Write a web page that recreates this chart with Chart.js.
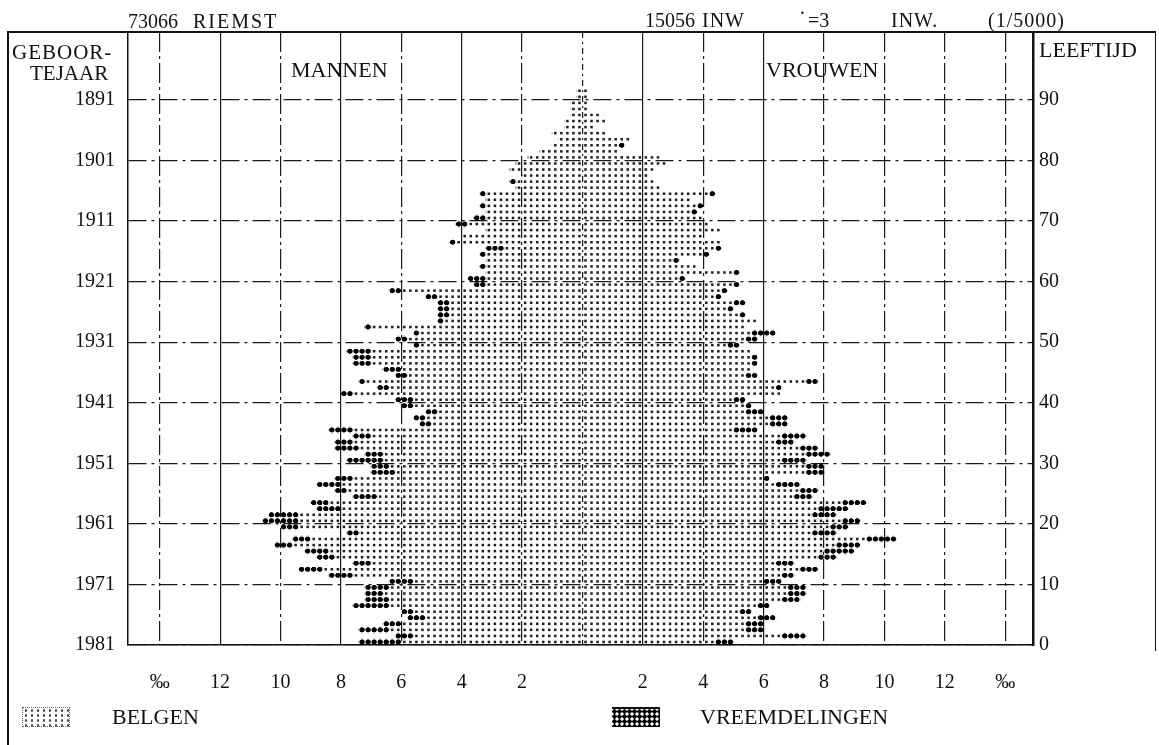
<!DOCTYPE html>
<html><head><meta charset="utf-8">
<script src="https://cdn.jsdelivr.net/npm/chart.js@4.4.1/dist/chart.umd.min.js"></script>
<style>
html,body{margin:0;padding:0;background:#fff;}
#wrap{position:relative;width:1159px;height:745px;overflow:hidden;font-family:'Liberation Serif','Times New Roman',serif;color:#111;}
#c{position:absolute;left:0;top:0;}
.t{position:absolute;white-space:nowrap;line-height:1;transform:translateY(-50%);}
.ln{position:absolute;background:#111;}
.sw{position:absolute;box-sizing:border-box;}
</style></head><body>
<div id="wrap">
<canvas id="c" width="1159" height="745"></canvas>
<div class="ln" style="left:8px;top:31px;width:1148px;height:2px;"></div>
<div class="ln" style="left:7px;top:31px;width:2px;height:714px;"></div>
<div class="ln" style="left:1155px;top:31px;width:1px;height:620px;"></div>

<span class="t" style="left:128px;top:21px;font-size:20px;">73066</span>
<span class="t" style="left:193px;top:21px;font-size:20px;letter-spacing:2px;">RIEMST</span>
<span class="t" style="left:645px;top:20px;font-size:20px;">15056</span>
<span class="t" style="left:702px;top:20px;font-size:20px;letter-spacing:1px;">INW</span>
<span class="t" style="left:799px;top:13px;font-size:20px;">·</span>
<span class="t" style="left:808px;top:20px;font-size:20px;">=3</span>
<span class="t" style="left:891px;top:20px;font-size:20px;letter-spacing:1px;">INW.</span>
<span class="t" style="left:988px;top:20px;font-size:20px;letter-spacing:1px;">(1/5000)</span>

<span class="t" style="left:12px;top:52px;font-size:21px;letter-spacing:1px;">GEBOOR-</span>
<span class="t" style="left:30px;top:73px;font-size:21px;">TEJAAR</span>
<span class="t" style="left:291px;top:70px;font-size:22px;">MANNEN</span>
<span class="t" style="left:766px;top:70px;font-size:22px;">VROUWEN</span>
<span class="t" style="left:1039px;top:50px;font-size:22px;">LEEFTIJD</span>

<div class="sw" style="left:22px;top:707px;width:48px;height:20px;border:1px dotted #666;background-image:radial-gradient(circle,#444 1px,transparent 1.4px);background-size:6px 5px;"></div>
<span class="t" style="left:112px;top:717px;font-size:22px;">BELGEN</span>
<div class="sw" style="left:612px;top:707px;width:48px;height:20px;border-top:2px solid #111;background-image:radial-gradient(circle,#000 2px,transparent 2.4px);background-size:5px 5px;"></div>
<span class="t" style="left:700px;top:717px;font-size:22px;">VREEMDELINGEN</span>
</div>
<script>
// ---- categories (age in years, 0 = born 1981) ----
const ages = [0,1,2,3,4,5,6,7,8,9,10,11,12,13,14,15,16,17,18,19,20,21,22,23,24,25,26,27,28,29,30,31,32,33,34,35,36,37,38,39,40,41,42,43,44,45,46,47,48,49,50,51,52,53,54,55,56,57,58,59,60,61,62,63,64,65,66,67,68,69,70,71,72,73,74,75,76,77,78,79,80,81,82,83,84,85,86,87,88,89,90,91];

// ---- series values, per mille of the population, by age ----
const menBelgen = [6.0,5.6,6.4,6.0,5.2,5.6,6.4,6.4,6.6,6.4,5.6,7.6,8.6,7.0,8.2,8.4,9.6,9.0,7.4,9.4,9.4,9.4,8.0,8.4,6.8,7.8,8.0,7.6,6.2,6.4,6.6,6.6,7.4,7.6,7.0,7.6,5.0,5.2,4.8,5.6,5.6,7.6,6.4,7.2,5.8,6.0,7.0,7.0,7.0,5.4,5.8,5.4,7.0,4.6,4.4,4.4,4.4,4.8,6.0,3.2,3.2,3.2,3.2,3.2,3.2,2.6,4.2,4.0,3.2,3.8,3.2,3.2,3.2,3.2,3.2,2.2,2.2,2.0,2.4,2.2,1.8,1.4,1.0,0.8,1.0,0.6,0.6,0.4,0.4,0.4,0.2,0.2];
const menVreemd = [1.4,0.6,1.0,0.6,0.6,0.4,1.2,0.8,0.6,0.8,0.8,0.8,0.8,0.6,0.6,0.8,0.6,0.6,0.4,0.6,1.2,1.0,0.8,0.6,0.8,0.4,0.8,0.6,0.8,0.6,1.2,0.6,0.8,0.6,0.6,0.8,0.4,0.4,0.4,0.4,0.6,0.4,0.4,0.2,0.4,0.6,0.6,0.6,0.8,0.2,0.4,0.2,0.2,0.2,0.4,0.4,0.4,0.4,0.4,0.4,0.6,0.0,0.2,0.0,0.2,0.6,0.2,0.0,0.0,0.4,0.4,0.0,0.2,0.0,0.2,0.0,0.2,0.0,0.0,0.0,0.0,0.0,0.0,0.0,0.0,0.0,0.0,0.0,0.0,0.0,0.0,0.0];
const womenBelgen = [4.4,6.6,5.4,5.4,5.8,5.2,5.8,6.6,6.8,6.8,6.0,6.6,7.2,6.4,7.8,8.0,8.4,9.4,7.6,8.2,8.6,7.6,7.8,8.6,7.0,7.2,6.4,6.0,7.4,7.4,6.6,7.4,7.2,6.4,6.6,5.0,6.2,6.2,5.4,5.4,5.0,6.6,6.4,7.4,5.4,5.6,5.6,5.6,5.6,4.8,5.4,5.6,5.4,5.8,5.2,4.8,5.0,4.4,4.6,5.0,3.2,5.0,3.8,3.0,4.0,4.4,4.6,4.0,4.6,4.2,4.0,3.6,3.8,3.6,4.2,2.6,2.4,2.2,2.4,2.8,2.6,1.2,1.2,1.6,0.8,0.4,0.8,0.6,0.2,0.2,0.2,0.2];
const womenVreemd = [0.6,0.8,0.6,0.6,0.6,0.4,0.4,0.6,0.6,0.6,0.6,0.4,0.6,0.6,0.6,1.0,0.8,1.0,0.8,0.6,0.6,0.8,1.0,0.8,0.6,0.6,0.8,0.2,0.6,0.6,0.8,0.8,0.6,0.6,0.8,0.8,0.6,0.6,0.6,0.2,0.4,0.0,0.2,0.4,0.4,0.0,0.2,0.2,0.0,0.4,0.4,0.8,0.0,0.0,0.2,0.2,0.4,0.2,0.2,0.2,0.2,0.2,0.0,0.2,0.2,0.2,0.0,0.0,0.0,0.0,0.0,0.2,0.2,0.0,0.2,0.0,0.0,0.0,0.0,0.0,0.0,0.0,0.2,0.0,0.0,0.0,0.0,0.0,0.0,0.0,0.0,0.0];

// ---- tick labels ----
const yTickAges = [0,10,20,30,40,50,60,70,80,90];
const birthYearLabels = ['1981','1971','1961','1951','1941','1931','1921','1911','1901','1891'];
const ageTickLabels = ['0','10','20','30','40','50','60','70','80','90'];
const xTickValues = [-14,-12,-10,-8,-6,-4,-2,0,2,4,6,8,10,12,14];
const xTickLabels = ['‰','12','10','8','6','4','2','','2','4','6','8','10','12','‰'];

const DOT = 0.2; // one dot = 3 inhabitants = 0.2 per mille

function makeDotPattern(kind){
  const c = document.createElement('canvas'); c.width = 12; c.height = 12;
  const g = c.getContext('2d');
  if (kind === 'belg') { g.fillStyle = '#1e1e1e'; g.fillRect(3.5, 3.5, 5, 5); }
  else { g.fillStyle = '#000'; g.beginPath(); g.ellipse(6, 6, 5.4, 5.0, 0, 0, Math.PI*2); g.fill(); }
  return g.createPattern(c, 'repeat');
}
const patBelg = makeDotPattern('belg');
const patVr = makeDotPattern('vr');

const alignPatterns = {
  id: 'alignPatterns',
  beforeDatasetsDraw(chart){
    const xs = chart.scales.x, ys = chart.scales.y;
    const x0 = xs.getPixelForValue(0), y0 = ys.getPixelForValue(0);
    const cw = Math.abs(xs.getPixelForValue(DOT) - x0);
    const ch = Math.abs(ys.getPixelForValue(1) - y0);
    const m = new DOMMatrix([cw/12, 0, 0, ch/12, x0, y0]);
    patBelg.setTransform(m); patVr.setTransform(m);
  }
};

const pts = (vals, sign) => vals.map((v, i) => ({x: sign * v, y: ages[i] + 0.5}));

const font = {family: "'Liberation Serif', 'Times New Roman', serif", size: 20};

new Chart(document.getElementById('c'), {
  type: 'bar',
  data: {datasets: [
    {label: 'BELGEN (mannen)', data: pts(menBelgen, -1), backgroundColor: patBelg, stack: 'p'},
    {label: 'VREEMDELINGEN (mannen)', data: pts(menVreemd, -1), backgroundColor: patVr, stack: 'p'},
    {label: 'BELGEN (vrouwen)', data: pts(womenBelgen, 1), backgroundColor: patBelg, stack: 'p'},
    {label: 'VREEMDELINGEN (vrouwen)', data: pts(womenVreemd, 1), backgroundColor: patVr, stack: 'p'}
  ]},
  plugins: [alignPatterns],
  options: {
    indexAxis: 'y',
    responsive: false,
    animation: false,
    events: [],
    datasets: {bar: {barPercentage: 1, categoryPercentage: 1, borderWidth: 0}},
    layout: {padding: {top: 32, left: 0, right: 0, bottom: 0}},
    plugins: {legend: {display: false}, tooltip: {enabled: false}},
    scales: {
      x: {
        type: 'linear', min: -15.05, max: 14.92, stacked: true, position: 'bottom', z: 1,
        afterBuildTicks: s => { s.ticks = xTickValues.map(v => ({value: v})); },
        afterFit: s => { s.height = 100; },
        ticks: {
          autoSkip: false, maxRotation: 0, padding: 26, color: '#111', font,
          callback: v => { const i = xTickValues.indexOf(v); return i < 0 ? '' : xTickLabels[i]; }
        },
        grid: {color: '#1a1a1a', lineWidth: 1.2, drawTicks: false},
        border: {color: '#111', width: 1.5, dash: c => {
          if (!c.tick) return [];
          const v = c.tick.value;
          if ([-12, -8, -4, 2, 6].includes(v)) return [];
          if (v === 0) return [6, 4, 2, 4];
          return [20, 4, 3, 4];
        }}
      },
      y: {
        type: 'linear', min: 0, max: 101.2, stacked: true, position: 'left', offset: false, z: 1,
        afterBuildTicks: s => { s.ticks = yTickAges.map(v => ({value: v})); },
        afterFit: s => { s.width = 128; },
        ticks: {
          autoSkip: false, padding: 13, color: '#111', font,
          callback: v => { const i = yTickAges.indexOf(v); return i < 0 ? '' : birthYearLabels[i]; }
        },
        grid: {color: '#1a1a1a', lineWidth: 1.2, drawTicks: false, offset: false},
        border: {color: '#111', width: 1.5, dash: c => c.tick ? [18, 5, 3, 5] : []}
      },
      y2: {
        type: 'linear', min: 0, max: 101.2, position: 'right', offset: false,
        afterBuildTicks: s => { s.ticks = yTickAges.map(v => ({value: v})); },
        afterFit: s => { s.width = 126; },
        ticks: {
          autoSkip: false, padding: 6, color: '#111', font,
          callback: v => { const i = yTickAges.indexOf(v); return i < 0 ? '' : ageTickLabels[i]; }
        },
        grid: {display: false, drawTicks: false, offset: false},
        border: {color: '#111', width: 2.5}
      }
    }
  }
});
</script>
</body></html>
